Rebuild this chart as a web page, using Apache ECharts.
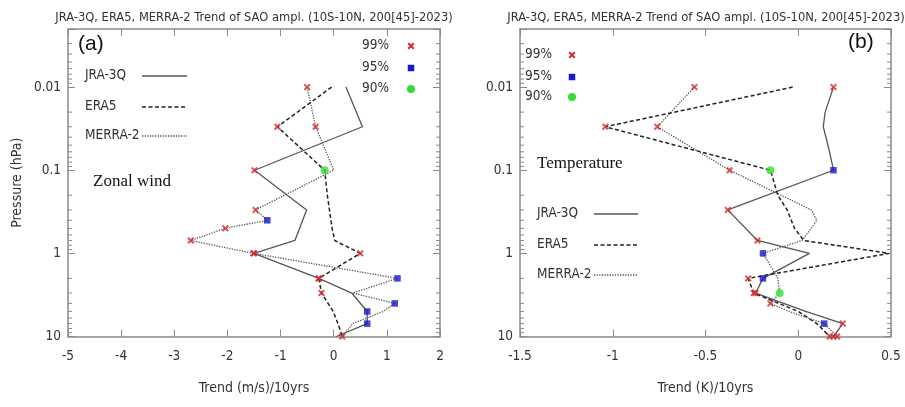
<!DOCTYPE html>
<html>
<head>
<meta charset="utf-8">
<script src="https://cdn.jsdelivr.net/npm/echarts@6/dist/echarts.min.js"></script>
<style>html,body{margin:0;padding:0;background:#fff}#c{width:905px;height:407px}</style>
</head>
<body>
<div id="c"></div>
<script>
// ---------- DATA ----------
// significance codes: 0 = none, 99 / 95 / 90 = confidence level marker
// Panel (a): zonal wind trend (m/s)/10yrs
const aJraP   = [0.01, 0.03, 0.1, 0.3, 0.7, 1, 2, 3, 5, 7, 10];
const aJraV   = [0.23, 0.54, -1.49, -0.51, -0.73, -1.50, -0.28, 0.34, 0.63, 0.63, 0.05];
const aJraSig = [0, 0, 99, 0, 0, 99, 99, 0, 95, 95, 0];

const aEraP   = [0.01, 0.03, 0.1, 0.2, 0.3, 0.5, 0.7, 1, 2, 3, 5, 7, 10];
const aEraV   = [-0.04, -1.06, -0.17, -0.12, -0.08, -0.03, 0.02, 0.50, -0.28, -0.23, -0.01, 0.08, 0.16];
const aEraSig = [0, 99, 90, 0, 0, 0, 0, 99, 99, 99, 0, 0, 99];

const aMerP   = [0.01, 0.03, 0.1, 0.3, 0.4, 0.5, 0.7, 1, 2, 3, 4, 5, 7, 10];
const aMerV   = [-0.50, -0.34, 0.00, -1.47, -1.25, -2.04, -2.69, -1.51, 1.20, 0.36, 1.15, 0.93, 0.36, 0.16];
const aMerSig = [99, 99, 0, 99, 95, 99, 99, 99, 95, 0, 95, 0, 0, 0];

// Panel (b): temperature trend (K)/10yrs
const bJraP   = [0.01, 0.02, 0.03, 0.05, 0.07, 0.1, 0.3, 0.7, 1, 2, 3, 5, 7, 10];
const bJraV   = [0.19, 0.145, 0.135, 0.16, 0.175, 0.19, -0.38, -0.22, 0.06, -0.19, -0.23, 0.04, 0.24, 0.19];
const bJraSig = [99, 0, 0, 0, 0, 95, 99, 99, 0, 95, 99, 0, 99, 99];

const bEraP   = [0.01, 0.03, 0.1, 0.2, 0.3, 0.5, 0.7, 1, 2, 3, 5, 7, 10];
const bEraV   = [-0.03, -1.04, -0.15, -0.11, -0.06, -0.02, 0.03, 0.49, -0.27, -0.24, 0.00, 0.10, 0.17];
const bEraSig = [0, 99, 90, 0, 0, 0, 0, 0, 99, 99, 0, 0, 99];

const bMerP   = [0.01, 0.03, 0.1, 0.3, 0.4, 0.5, 0.7, 1, 2, 3, 4, 5, 7, 10];
const bMerV   = [-0.56, -0.76, -0.37, 0.07, 0.10, 0.07, 0.02, -0.19, -0.11, -0.10, -0.15, -0.05, 0.14, 0.21];
const bMerSig = [99, 99, 99, 0, 0, 0, 0, 95, 0, 90, 99, 0, 95, 99];

// axes
const aXTicks = [-5, 2, 1];         // min, max, interval
const bXTicks = [-1.5, 0.5, 0.5];
const pRange  = [0.002, 10];
const pMajorLabels = [0.01, 0.1, 1, 10];
const pMinor = [0.003,0.004,0.005,0.006,0.007,0.008,0.009,
                0.02,0.03,0.04,0.05,0.06,0.07,0.08,0.09,
                0.2,0.3,0.4,0.5,0.6,0.7,0.8,0.9,
                2,3,4,5,6,7,8,9];

const seriesNames = ['JRA-3Q', 'ERA5', 'MERRA-2'];
const sigNames = ['99%', '95%', '90%'];
const titleText = 'JRA-3Q, ERA5, MERRA-2 Trend of SAO ampl. (10S-10N, 200[45]-2023)';

// ---------- STYLES ----------
const FONT = "'DejaVu Sans Condensed', 'DejaVu Sans', sans-serif";
const AXIS_COLOR = '#8a8a8a';
const TEXT_COLOR = '#333';
const lineStyles = [
  {color: '#555', width: 1.3, type: 'solid'},
  {color: '#222', width: 1.5, type: [4, 2.5]},
  {color: '#555', width: 1.3, type: [1.3, 1.3]}
];
const CROSS = 'path://M0,2L2,0L5,3L8,0L10,2L7,5L10,8L8,10L5,7L2,10L0,8L3,5Z';
const sigStyle = {
  99: {symbol: CROSS, size: 7, color: '#d42a2a'},
  95: {symbol: 'rect', size: 6.5, color: '#1818c8'},
  90: {symbol: 'circle', size: 8, color: '#33dd33'}
};

function pairs(ps, vs) { return ps.map((p, i) => [vs[i], p]); }
function sigPoints(code, sets) {
  const out = [];
  sets.forEach(([ps, vs, ss]) => ps.forEach((p, i) => { if (ss[i] === code) out.push([vs[i], p]); }));
  return out;
}

function panelSeries(gi, sets) {
  const s = [];
  sets.forEach((set, k) => {
    s.push({
      name: seriesNames[k], type: 'line', xAxisIndex: gi * 2, yAxisIndex: gi * 2,
      data: pairs(set[0], set[1]), symbol: 'none', lineStyle: lineStyles[k],
      z: 2, silent: true, animation: false
    });
  });
  [99, 95, 90].forEach((code, k) => {
    const st = sigStyle[code];
    s.push({
      name: sigNames[k], type: 'scatter', xAxisIndex: gi * 2, yAxisIndex: gi * 2,
      data: sigPoints(code, sets), symbol: st.symbol, symbolSize: st.size,
      itemStyle: {color: st.color}, z: 5, animation: false
    });
  });
  s.push({
    type: 'custom', xAxisIndex: gi * 2, yAxisIndex: gi * 2, silent: true, animation: false,
    data: pMinor.map(p => [0, p]),
    renderItem: function (params, api) {
      const cs = params.coordSys;
      const y = api.coord([api.value(0), api.value(1)])[1];
      const st = {stroke: AXIS_COLOR, lineWidth: 1};
      return {type: 'group', children: [
        {type: 'line', shape: {x1: cs.x, y1: y, x2: cs.x + 4, y2: y}, style: st},
        {type: 'line', shape: {x1: cs.x + cs.width, y1: y, x2: cs.x + cs.width - 4, y2: y}, style: st}
      ]};
    }
  });
  return s;
}

function xAxes(gi, t, name) {
  const base = {
    type: 'value', gridIndex: gi, min: t[0], max: t[1], interval: t[2],
    axisLine: {show: true, onZero: false, lineStyle: {color: AXIS_COLOR, width: 1.5}},
    axisTick: {show: true, inside: true, length: 7, lineStyle: {color: AXIS_COLOR, width: 1}},
    splitLine: {show: false}
  };
  return [
    Object.assign({}, base, {
      position: 'bottom', name: name, nameLocation: 'middle', nameGap: 45,
      nameTextStyle: {fontFamily: FONT, fontSize: 14, color: TEXT_COLOR},
      axisLabel: {fontFamily: FONT, fontSize: 13.5, color: TEXT_COLOR, margin: 13}
    }),
    Object.assign({}, base, {position: 'top', axisLabel: {show: false}})
  ];
}
function yAxes(gi, withName) {
  const base = {
    type: 'log', logBase: 10, gridIndex: gi, min: pRange[0], max: pRange[1], inverse: true,
    axisLine: {show: true, onZero: false, lineStyle: {color: AXIS_COLOR, width: 1.5}},
    axisTick: {show: true, inside: true, length: 7, lineStyle: {color: AXIS_COLOR, width: 1}},
    splitLine: {show: false}, minorTick: {show: false}
  };
  return [
    Object.assign({}, base, {
      position: 'left',
      name: withName ? 'Pressure (hPa)' : '', nameLocation: 'middle', nameGap: 44,
      nameTextStyle: {fontFamily: FONT, fontSize: 14, color: TEXT_COLOR},
      axisLabel: {
        fontFamily: FONT, fontSize: 13.5, color: TEXT_COLOR, margin: 7,
        formatter: function (v) {
          for (const m of pMajorLabels) if (Math.abs(Math.log10(v) - Math.log10(m)) < 1e-6) return String(m);
          return '';
        }
      }
    }),
    Object.assign({}, base, {position: 'right', axisLabel: {show: false}})
  ];
}

function crossPts(cx, cy, s) {
  const raw = [[0,2],[2,0],[5,3],[8,0],[10,2],[7,5],[10,8],[8,10],[5,7],[2,10],[0,8],[3,5]];
  return raw.map(([x, y]) => [cx + (x - 5) * s / 10, cy + (y - 5) * s / 10]);
}
function sigLegend(tx, mx, ys) {
  const g = [];
  sigNames.forEach((n, i) => {
    g.push({type: 'text', left: tx, top: ys[i] - 8, style: {text: n, font: "13.5px " + FONT, fill: TEXT_COLOR}});
  });
  g.push({type: 'polygon', shape: {points: crossPts(mx, ys[0], 7)}, style: {fill: sigStyle[99].color}});
  g.push({type: 'rect', shape: {x: mx - 3.25, y: ys[1] - 3.25, width: 6.5, height: 6.5}, style: {fill: sigStyle[95].color}});
  g.push({type: 'circle', shape: {cx: mx, cy: ys[2], r: 4}, style: {fill: sigStyle[90].color}});
  return g;
}
function lineLegend(tx, x1, x2, ys) {
  const g = [];
  seriesNames.forEach((n, i) => {
    g.push({type: 'text', left: tx, top: ys[i] - 8, style: {text: n, font: "13.5px " + FONT, fill: TEXT_COLOR}});
    const ls = lineStyles[i];
    g.push({type: 'line', shape: {x1: x1, y1: ys[i], x2: x2, y2: ys[i]},
      style: {stroke: ls.color, lineWidth: ls.width, lineDash: ls.type === 'solid' ? null : ls.type}});
  });
  return g;
}

const setsA = [[aJraP, aJraV, aJraSig], [aEraP, aEraV, aEraSig], [aMerP, aMerV, aMerSig]];
const setsB = [[bJraP, bJraV, bJraSig], [bEraP, bEraV, bEraSig], [bMerP, bMerV, bMerSig]];

const option = {
  backgroundColor: '#fff',
  animation: false,
  title: [
    {text: titleText, left: 249, top: 6, textAlign: 'center',
     textStyle: {fontFamily: FONT, fontSize: 12.8, fontWeight: 'normal', color: TEXT_COLOR}},
    {text: titleText, left: 701, top: 6, textAlign: 'center',
     textStyle: {fontFamily: FONT, fontSize: 12.8, fontWeight: 'normal', color: TEXT_COLOR}}
  ],
  grid: [
    {left: 68, right: 465, top: 29, bottom: 70.5},
    {left: 520, right: 14, top: 29, bottom: 70.5}
  ],
  xAxis: xAxes(0, aXTicks, 'Trend (m/s)/10yrs').concat(xAxes(1, bXTicks, 'Trend (K)/10yrs')),
  yAxis: yAxes(0, true).concat(yAxes(1, false)),
  series: panelSeries(0, setsA).concat(panelSeries(1, setsB)),
  graphic: [].concat(
    [{type: 'text', left: 78, top: 34, style: {text: '(a)', font: "21px 'Liberation Sans', Arial, sans-serif", fill: '#111'}}],
    sigLegend(362, 411, [46, 68, 89]),
    lineLegend(85, 142, 187, [76, 107, 136]),
    [{type: 'text', left: 93, top: 173, style: {text: 'Zonal wind', font: "17px 'Liberation Serif', 'Times New Roman', serif", fill: '#111'}}],
    [{type: 'text', left: 848, top: 32, style: {text: '(b)', font: "21px 'Liberation Sans', Arial, sans-serif", fill: '#111'}}],
    sigLegend(525, 572, [55, 77, 97]),
    lineLegend(537, 594, 638, [214, 245, 275]),
    [{type: 'text', left: 537, top: 155, style: {text: 'Temperature', font: "17px 'Liberation Serif', 'Times New Roman', serif", fill: '#111'}}]
  )
};

const chart = echarts.init(document.getElementById('c'), null, {renderer: 'canvas'});
chart.setOption(option);
</script>
</body>
</html>
